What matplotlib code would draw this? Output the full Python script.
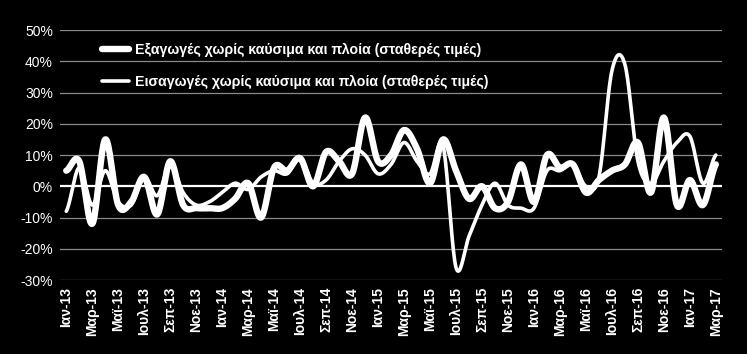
"""Exports vs imports excl. fuels & ships (constant prices), y/y % change, Jan-13 .. Mar-17."""
import matplotlib
matplotlib.use("Agg")
import matplotlib.pyplot as plt
import numpy as np

plt.rcParams.update({
    "font.family": ["Liberation Sans", "DejaVu Sans"],
    "font.size": 10,
})

# --- data (% y/y) -----------------------------------------------------------------------------
months = ["Ιαν", "Φεβ", "Μαρ", "Απρ", "Μαϊ", "Ιουν", "Ιουλ", "Αυγ", "Σεπ", "Οκτ", "Νοε", "Δεκ"]
years = [13, 14, 15, 16, 17]
categories = [f"{m}-{y}" for y in years for m in months][:51]

exports = [5, 8, -12, 15, -6, -5, 3, -9, 8, -6, -7, -7, -7, -4, 1, -10, 6, 5, 9, 0,
           11, 8, 4, 22, 8, 10, 18, 12, 1, 15, 5, -4, 0, -7, -5, 7, -5, 10, 6, 7,
           -2, 2, 5, 7, 14, -2, 22, -6, 2, -6, 7]
imports = [-8, 6, -6, 5, -5, -6, 3, -3, 7, -2, -6, -5, -2, 1, -1, 3, 5, 4, 9, 1,
           2, 8, 12, 10, 4, 7, 14, 8, 4, 13, -26, -16, -6, 1, -6, -7, -7, 5, 5, 7,
           0, 3, 37, 39, 8, 1, 8, 14, 16, 1, 10]
yticks = [-30, -20, -10, 0, 10, 20, 30, 40, 50]
label_exp = "Εξαγωγές χωρίς καύσιμα και πλοία (σταθερές τιμές)"
label_imp = "Εισαγωγές χωρίς καύσιμα και πλοία (σταθερές τιμές)"


def smooth(y, n=20):
    """Excel-style smoothed line: Catmull-Rom segments through the data points."""
    y = np.asarray(y, float)
    p = np.concatenate([[y[0]], y, [y[-1]]])
    xs, ys = [], []
    t = np.linspace(0, 1, n, endpoint=False)
    for i in range(len(y) - 1):
        p0, p1, p2, p3 = p[i], p[i + 1], p[i + 2], p[i + 3]
        seg = 0.5 * ((2 * p1) + (-p0 + p2) * t + (2 * p0 - 5 * p1 + 4 * p2 - p3) * t ** 2
                     + (-p0 + 3 * p1 - 3 * p2 + p3) * t ** 3)
        xs.append(i + t)
        ys.append(seg)
    xs.append([len(y) - 1])
    ys.append([y[-1]])
    return np.concatenate(xs), np.concatenate(ys)


fig = plt.figure(figsize=(7.47, 3.54), dpi=100, facecolor="black")
ax = fig.add_axes([0.080, 0.209, 0.887, 0.706], facecolor="black")

for v in yticks:
    ax.axhline(v, color="white" if v == 0 else "#8a8a8a", lw=1.6 if v == 0 else 0.9, zorder=1)

xe, ye = smooth(exports)
xi, yi = smooth(imports)
ax.plot(xe, ye, color="white", lw=4.6, solid_capstyle="round", zorder=3, label=label_exp)
ax.plot(xi, yi, color="white", lw=2.6, solid_capstyle="round", zorder=4, label=label_imp)

ax.set_xlim(-0.5, 50.5)
ax.set_ylim(-30, 50)
ax.set_yticks(yticks)
ax.set_yticklabels([f"{v}%" for v in yticks], color="white", fontsize=10)
ticks = np.arange(0, 51, 2)
ax.set_xticks(ticks)
ax.set_xticklabels([categories[i] for i in ticks], rotation=90, color="white",
                   fontsize=10, fontweight="bold")
ax.tick_params(length=0, pad=5)
for s in ax.spines.values():
    s.set_visible(False)

leg = ax.legend(loc="upper left", bbox_to_anchor=(0.045, 1.0), frameon=False,
                handlelength=1.9, handletextpad=0.4, labelspacing=1.25,
                prop={"size": 10.2, "weight": "bold"})
for t in leg.get_texts():
    t.set_color("white")

fig.savefig("out.png", dpi=100, facecolor="black")
